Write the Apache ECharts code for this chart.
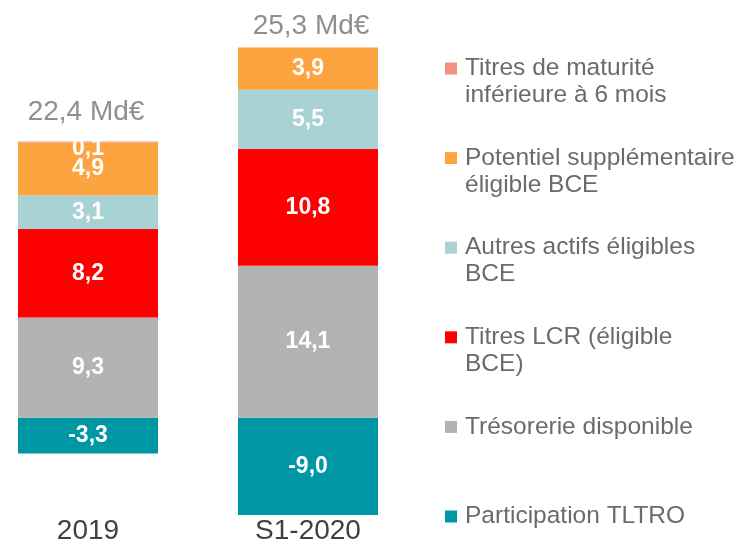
<!DOCTYPE html>
<html>
<head>
<meta charset="utf-8">
<script src="https://cdn.jsdelivr.net/npm/echarts@6/dist/echarts.min.js"></script>
<style>
  html, body { margin: 0; padding: 0; background: #fff; }
  #chart { width: 741px; height: 539px; }
</style>
</head>
<body>
<div id="chart"></div>
<script>
// catégories et valeurs (Md€)
var categories = ['2019', 'S1-2020'];
var totals = ['22,4', '25,3'];

var tltro = [-3.3, -9.0];
var tresorerie = [9.3, 14.1];
var lcr = [8.2, 10.8];
var autres = [3.1, 5.5];
var potentiel = [4.9, 3.9];
var maturite = [0.1, 0];

var seriesDefs = [
    {name: 'Participation TLTRO', data: tltro, color: '#0097A4', legend: 'Participation TLTRO'},
    {name: 'Trésorerie disponible', data: tresorerie, color: '#B3B3B3', legend: 'Trésorerie disponible'},
    {name: 'Titres LCR (éligible BCE)', data: lcr, color: '#FF0000', legend: 'Titres LCR (éligible\nBCE)'},
    {name: 'Autres actifs éligibles BCE', data: autres, color: '#A9D2D4', legend: 'Autres actifs éligibles\nBCE'},
    {name: 'Potentiel supplémentaire éligible BCE', data: potentiel, color: '#FCA43F', legend: 'Potentiel supplémentaire\néligible BCE'},
    {name: 'Titres de maturité inférieure à 6 mois', data: maturite, color: '#F0927F', legend: 'Titres de maturité\ninférieure à 6 mois'}
];

var fmt = function (v) { return v.toFixed(1).replace('.', ','); };

// haut de la pile positive, pour placer les totaux
var stackTop = categories.map(function (c, i) {
    return seriesDefs.reduce(function (s, d) { return d.data[i] > 0 ? s + d.data[i] : s; }, 0);
});

var series = seriesDefs.map(function (d) {
    return {
        type: 'bar',
        name: d.name,
        stack: 'total',
        barWidth: 140,
        clip: false,
        itemStyle: {color: d.color},
        label: {
            show: true,
            position: 'inside',
            color: '#fff',
            fontSize: 23,
            fontWeight: 'bold',
            fontFamily: 'Liberation Sans',
            offset: d.data === maturite ? [0, 7] : [0, 0],
            formatter: function (p) { return p.value ? fmt(p.value) : ''; }
        },
        data: d.data
    };
});

series.push({
    type: 'scatter',
    name: 'total',
    symbolSize: 0,
    silent: true,
    data: stackTop.map(function (v, i) {
        return {
            value: [i, v],
            label: {offset: i === 0 ? [-2, -29] : [3, -21]}
        };
    }),
    label: {
        show: true,
        position: 'inside',
        fontSize: 28,
        color: '#737373',
        fontFamily: 'Liberation Sans',
        formatter: function (p) { return totals[p.dataIndex] + ' Md€'; }
    }
});

var legendOrder = seriesDefs.slice().reverse();

var chart = echarts.init(document.getElementById('chart'));
chart.setOption({
    animation: false,
    textStyle: {fontFamily: 'Liberation Sans'},
    grid: {left: 88, right: 433, top: 40, bottom: 24, outerBoundsMode: 'none', containLabel: false},
    xAxis: {
        type: 'category',
        data: categories,
        boundaryGap: false,
        axisLine: {show: false},
        axisTick: {show: false},
        axisLabel: {fontSize: 28, color: '#404040', margin: 2, fontFamily: 'Liberation Sans'}
    },
    yAxis: {
        type: 'value',
        min: -9,
        max: 35,
        show: false,
        splitLine: {show: false}
    },
    legend: {
        orient: 'vertical',
        left: 445,
        top: 28,
        height: 700,
        padding: 0,
        itemWidth: 12,
        itemHeight: 12,
        itemGap: 8.6,
        icon: 'rect',
        selectedMode: false,
        textStyle: {fontSize: 24.5, color: '#6B6B6B', lineHeight: 27, fontFamily: 'Liberation Sans', padding: [0, 0, 0, 3]},
        data: legendOrder.map(function (d) { return d.name; }),
        // trois lignes par entrée : la première ligne du texte reste au niveau du carré
        formatter: function (name) {
            for (var i = 0; i < seriesDefs.length; i++) {
                if (seriesDefs[i].name === name) {
                    var txt = seriesDefs[i].legend;
                    return txt.indexOf('\n') >= 0 ? ' \n' + txt : ' \n' + txt + '\n ';
                }
            }
            return name;
        }
    },
    series: series
});
</script>
</body>
</html>
